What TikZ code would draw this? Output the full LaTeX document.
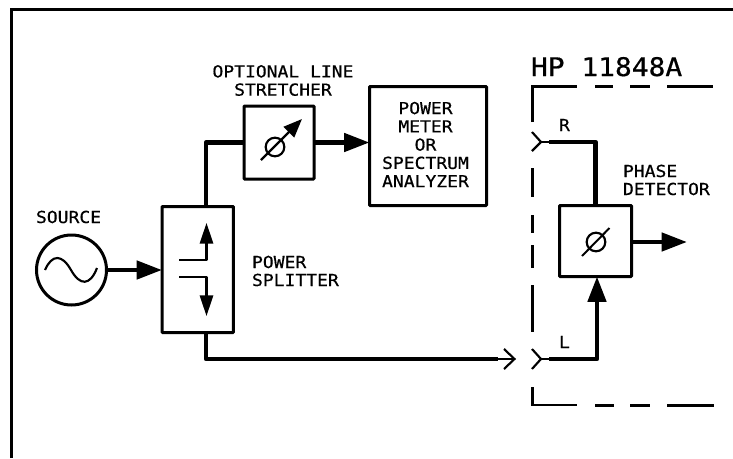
\documentclass[tikz,border=0pt]{standalone}
\usepackage{fontspec}
\usetikzlibrary{arrows.meta,calc}
\newfontfamily\plotfont[FakeStretch=1.09,FakeBold=0.6]{DejaVu Sans Mono}
\tikzset{
  x=0.75pt,y=-0.75pt,
  every node/.style={outer sep=0pt,inner sep=0pt},
  frameline/.style={line width=2.25pt},
  boxnode/.style={draw,line width=2.25pt,rectangle,rounded corners=0.5pt},
  wire/.style={line width=3.4pt,line join=round},
  headed/.style={wire,-{Triangle[length=19pt,width=13.5pt]}},
  thinline/.style={line width=1.6pt,line join=round},
  wing/.style={line width=1.6pt,line join=miter},
  smallhead/.style={thinline,-{Triangle[length=15.5pt,width=10pt]}},
  dashline/.style={line width=1.8pt},
  lbl/.style={font=\plotfont\fontsize{12.4pt}{13.7pt}\selectfont,align=left,anchor=base west},
  ctrlbl/.style={font=\plotfont\fontsize{12.4pt}{13.7pt}\selectfont,align=center},
}
\begin{document}
\begin{tikzpicture}
\useasboundingbox (0,0) rectangle (733,458);
% outer frame
\coordinate (fbl) at (11.5,458);
\coordinate (ftl) at (11.5,9);
\coordinate (ftr) at (733,9);
\draw[frameline] (fbl) -- (ftl) -- (ftr);

% blocks
\node[boxnode,minimum width=52.5pt,minimum height=54.75pt] (stretch) at (279,142.5) {};
\node[boxnode,minimum width=87.75pt,minimum height=89.25pt] (meter) at (428,146) {};
\node[ctrlbl] (metertext) at (425.5,144.5) {POWER\\METER\\OR\\SPECTRUM\\ANALYZER};
\node[boxnode,minimum width=53.6pt,minimum height=94.5pt] (split) at (197.75,269.5) {};
\node[boxnode,minimum width=54pt,minimum height=53.25pt] (phase) at (595.5,241) {};
\node[draw,circle,line width=2.25pt,minimum size=52.5pt] (source) at (71.5,270) {};

% labels
\node[ctrlbl] (stretchlbl) at (283,80.5) {OPTIONAL LINE\\STRETCHER};
\node[lbl] (sourcelbl) at (36,223) {SOURCE};
\node[lbl] (splitlbl1) at (252,268) {POWER};
\node[lbl] (splitlbl2) at (252,286) {SPLITTER};
\node[lbl] (phaselbl1) at (623,177) {PHASE};
\node[lbl] (phaselbl2) at (623,195) {DETECTOR};
\node[lbl] (rlbl) at (559,131) {R};
\node[lbl] (llbl) at (559,348) {L};
\node[anchor=base west,font=\plotfont\fontsize{19.2pt}{22pt}\selectfont] (hplbl) at (531,76) {HP 11848A};

% source sine
\draw[thinline] (45,270) .. controls (52,254) and (62,254) .. (71,270)
  .. controls (80,286) and (90,286) .. (97,268);

% connectors
\coordinate (tap) at (206,270);
\coordinate (topcorner) at (tap |- stretch.west);
\coordinate (botcorner) at (206,359);
\coordinate (lineend) at (498,359);
\coordinate (opentip) at (514.5,359);
\draw[headed] (source.east) -- (source.east -| split.west);
\draw[wire] (tap |- split.north) -- (topcorner) -- (stretch.west);
\draw[headed] (stretch.east) -- (stretch.east -| meter.west);
\draw[wire] (tap |- split.south) -- (botcorner) -- (lineend);
\draw[thinline] (lineend) -- (opentip);
\draw[wing] (504,349) -- (opentip) -- (504,369);

% splitter internals
\coordinate (upin) at (179,260);
\coordinate (upbend) at (206.5,260);
\coordinate (uptip) at (206.5,223);
\coordinate (dnin) at (179,277);
\coordinate (dnbend) at (206.5,277);
\coordinate (dntip) at (206.5,316);
\draw[smallhead] (upin) -- (upbend) -- (uptip);
\draw[smallhead] (dnin) -- (dnbend) -- (dntip);

% stretcher phase symbol
\node[draw,circle,line width=1.6pt,minimum size=14pt] (phi1) at (275,147) {};
\coordinate (phi1a) at (261,160);
\coordinate (phi1b) at (302,119);
\draw[line width=1.8pt,-{Triangle[length=14pt,width=11pt]}] (phi1a) -- (phi1b);

% detector phase symbol
\node[draw,circle,line width=1.6pt,minimum size=14pt] (phi2) at (596,242) {};
\coordinate (phi2a) at (582,256);
\coordinate (phi2b) at (609.5,228);
\draw[line width=1.5pt] (phi2a) -- (phi2b);

% HP 11848A dashed enclosure
\draw[dashline] (532.5,122) -- (532.5,86.5) -- (577,86.5);
\draw[dashline] (595,86.5) -- (613,86.5);
\draw[dashline] (630,86.5) -- (650,86.5);
\draw[dashline] (667,86.5) -- (713,86.5);
\draw[dashline] (532.5,168) -- (532.5,197);
\draw[dashline] (532.5,215) -- (532.5,233);
\draw[dashline] (532.5,245) -- (532.5,268);
\draw[dashline] (532.5,285) -- (532.5,332);
\draw[dashline] (532.5,387) -- (532.5,405) -- (577,405);
\draw[dashline] (595,405.5) -- (614,405.5);
\draw[dashline] (630,405.5) -- (650,405.5);
\draw[dashline] (667,405.5) -- (714,405.5);

% R port
\coordinate (rfork) at (541,142);
\coordinate (rstart) at (549,142);
\coordinate (rcorner) at (phase.north |- rstart);
\draw[wing] (532,132) -- (rfork) -- (532,151);
\draw[thinline] (rfork) -- (rstart);
\draw[wire] (rstart) -- (rcorner) -- (phase.north);

% L port
\coordinate (lfork) at (541,359);
\coordinate (lstart) at (549,359);
\coordinate (lcorner) at (597,359);
\draw[wing] (532,349) -- (lfork) -- (532,369);
\draw[thinline] (lfork) -- (lstart);
\draw[headed] (lstart) -- (lcorner) -- (lcorner |- phase.south);

% detector output
\coordinate (outtip) at (687,242);
\draw[headed] (phase.east |- outtip) -- (outtip);
\end{tikzpicture}
\end{document}
